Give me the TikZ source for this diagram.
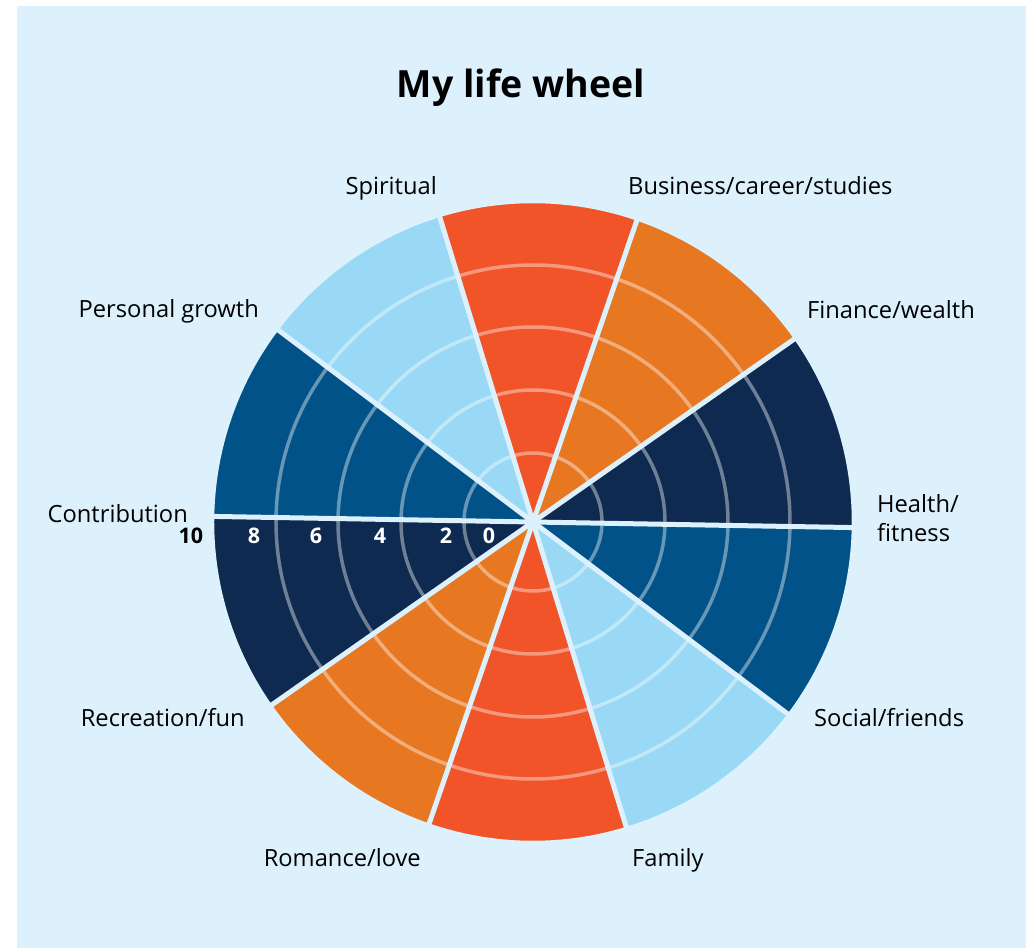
\documentclass[tikz,border=0pt]{standalone}
\usepackage{fontspec}
\setmainfont{Open Sans}
\usetikzlibrary{positioning}
\definecolor{wheelbg}{HTML}{DDF1FD}
\definecolor{wnavy}{HTML}{0F2A50}
\definecolor{worange}{HTML}{E87722}
\definecolor{wred}{HTML}{F05428}
\definecolor{wlight}{HTML}{99D9F5}
\definecolor{wmid}{HTML}{005288}
\tikzset{
    % Wheel parts
    wedge/.style={fill=#1,draw=wheelbg,line width=2.5pt},
    spoke/.style={draw=wheelbg,line width=5pt},
    ring/.style={draw=white,draw opacity=.4,line width=3.5pt},
    %
    % Texts
    title text/.style={font=\fontsize{37.5}{42}\selectfont\bfseries,inner sep=0pt,anchor=base},
    area label/.style={font=\fontsize{23.7}{28}\selectfont,inner sep=0pt},
    scale label/.style={font=\fontsize{21.5}{24}\selectfont\bfseries,inner sep=0pt,anchor=base,text=white}
}

\begin{document}
\begin{tikzpicture}[x=1pt,y=1pt]
    \useasboundingbox (-533,-426) rectangle (493,522);
    \fill[wheelbg] (-516,-426) rectangle (493,516);
    \node[title text] (title) at (-12,424) {My life wheel};
    % wedges
    \foreach \i/\c [evaluate=\i as \a using -1+36*\i] in {0/wnavy,1/worange,2/wred,3/wlight,4/wmid,5/wnavy,6/worange,7/wred,8/wlight,9/wmid}
        \draw[wedge=\c] (0,0) -- (\a:320pt) arc[start angle=\a, delta angle=36, radius=320pt] -- cycle;
    \foreach \r in {69,132,195,257}
        \draw[ring] (0,0) circle[radius=\r pt];
    \coordinate (hub) at (0,0);
    \foreach \a in {-1,35,...,323}
        \draw[spoke] (hub) -- (\a:321pt);
    % scale
    \node[scale label,text=black] (s10) at (-342,-21) {10};
    \node[scale label] (s8) at (-279,-21) {8};
    \node[scale label] (s6) at (-217,-21) {6};
    \node[scale label] (s4) at (-153,-21) {4};
    \node[scale label] (s2) at (-87,-21) {2};
    \node[scale label] (s0) at (-44,-21) {0};
    % areas
    \node[area label,anchor=base west,align=left] (health) at (344,-19) {Health/\\fitness};
    \node[area label,anchor=base west] (finance) at (274,203) {Finance/wealth};
    \node[area label,anchor=base west] (business) at (95,327) {Business/career/studies};
    \node[area label,anchor=base east] (spiritual) at (-96,327) {Spiritual};
    \node[area label,anchor=base east] (growth) at (-274,204) {Personal growth};
    \node[area label,anchor=base east] (contribution) at (-345,0) {Contribution};
    \node[area label,anchor=base east] (recreation) at (-288,-204) {Recreation/fun};
    \node[area label,anchor=base east] (romance) at (-112,-344) {Romance/love};
    \node[area label,anchor=base west] (family) at (99,-344) {Family};
    \node[area label,anchor=base west] (social) at (281,-204) {Social/friends};
\end{tikzpicture}
\end{document}
